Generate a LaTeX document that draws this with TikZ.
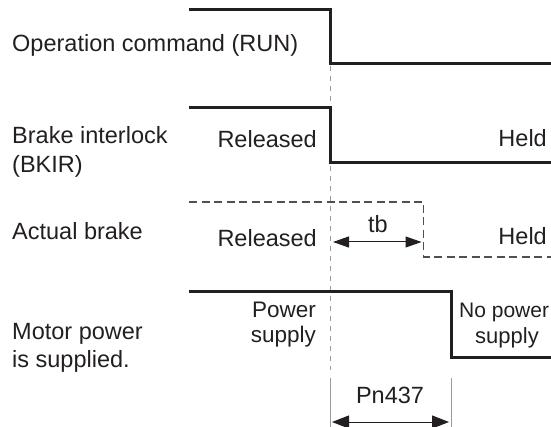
\documentclass[tikz,border=0pt]{standalone}
\usepackage{fontspec}
\setmainfont{Liberation Sans}
\usetikzlibrary{arrows.meta}
\definecolor{ink}{HTML}{231F20}
\definecolor{guide}{HTML}{9A9A9A}
\definecolor{brk}{HTML}{505050}
\begin{document}
\begin{tikzpicture}[x=1pt,y=-1pt,
  lbl/.style={inner sep=0pt,font=\fontsize{23.5}{28}\selectfont,text=ink},
  sig/.style={line width=3pt,draw=ink,line join=miter},
  brakesig/.style={line width=1.4pt,draw=brk,dash pattern=on 8pt off 4.5pt},
  guideline/.style={line width=1pt,draw=guide,dash pattern=on 5pt off 5pt},
  marker/.style={line width=1pt,draw=guide},
  dim/.style={line width=1pt,draw=ink,{Triangle[length=16pt,width=11pt]}-{Triangle[length=16pt,width=11pt]}}]
\useasboundingbox (0,0) rectangle (551,427);
% signal coordinates
\coordinate (a1) at (189,10);  \coordinate (a2) at (330,10);
\coordinate (a3) at (330,64);  \coordinate (a4) at (551,64);
\coordinate (b1) at (189,108); \coordinate (b2) at (330,108);
\coordinate (b3) at (330,163); \coordinate (b4) at (551,163);
\coordinate (c1) at (189,202); \coordinate (c2) at (423.5,202);
\coordinate (c3) at (423.5,257); \coordinate (c4) at (551,257);
\coordinate (d1) at (189,292); \coordinate (d2) at (451,292);
\coordinate (d3) at (451,357); \coordinate (d4) at (551,357);
% guides
\coordinate (g1) at (330,66);  \coordinate (g2) at (330,370);
\coordinate (m1) at (330,378); \coordinate (m2) at (330,427);
\coordinate (n1) at (451,378); \coordinate (n2) at (451,427);
\draw[guideline] (g1) -- (g2);
\draw[marker] (m1) -- (m2);
\draw[marker] (n1) -- (n2);
% signals
\draw[sig] (a1) -- (a2) -- (a3) -- (a4);
\draw[sig] (b1) -- (b2) -- (b3) -- (b4);
\draw[brakesig] (c1) -- (c2) -- (c3) -- (c4);
\draw[sig] (d1) -- (d2) -- (d3) -- (d4);
% dimension arrows
\coordinate (t1) at (333,242); \coordinate (t2) at (421.5,242);
\draw[dim] (t1) -- (t2);
\coordinate (p1) at (332,422); \coordinate (p2) at (449,422);
\draw[dim,{Triangle[length=17pt,width=13pt]}-{Triangle[length=17pt,width=13pt]}] (p1) -- (p2);
% left labels
\node[lbl,anchor=base west] (l1) at (12,52) {Operation command (RUN)};
\node[lbl,anchor=base west] (l2a) at (12,144) {Brake interlock};
\node[lbl,anchor=base west] (l2b) at (12,173) {(BKIR)};
\node[lbl,anchor=base west] (l3) at (12,239.5) {Actual brake};
\node[lbl,anchor=base west] (l4a) at (12,339) {Motor power};
\node[lbl,anchor=base west] (l4b) at (12,367) {is supplied.};
% state labels
\node[lbl,anchor=base east] (rel1) at (317,148) {Released};
\node[lbl,anchor=base east] (held1) at (547,147) {Held};
\node[lbl,anchor=base east] (rel2) at (317,247) {Released};
\node[lbl,anchor=base east] (held2) at (547,245) {Held};
\node[lbl,anchor=base] (tb) at (378,233) {tb};
\node[lbl,anchor=base east,font=\fontsize{22.5}{26}\selectfont] (pw1) at (316,317) {Power};
\node[lbl,anchor=base east,font=\fontsize{22.5}{26}\selectfont] (pw2) at (316,342) {supply};
\node[lbl,anchor=base west,font=\fontsize{21}{26}\selectfont] (np1) at (459,318) {No power};
\node[lbl,anchor=base,font=\fontsize{22}{26}\selectfont] (np2) at (507,343) {supply};
\node[lbl,anchor=base] (pn) at (390,403) {Pn437};
\end{tikzpicture}
\end{document}
